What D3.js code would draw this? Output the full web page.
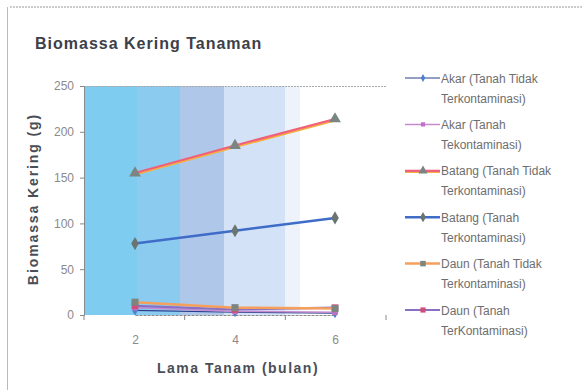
<!DOCTYPE html>
<html>
<head>
<meta charset="utf-8">
<script src="https://cdn.jsdelivr.net/npm/d3@7"></script>
<style>
  html, body { margin: 0; padding: 0; background: #fff; }
  svg { display: block; font-family: Arial, "Liberation Sans", sans-serif; }
</style>
</head>
<body>
<svg id="chart" width="582" height="392"></svg>
<script>
// Lama tanam (bulan)
const months = [2, 4, 6];
const yTicks = [0, 50, 100, 150, 200, 250];

// Biomassa kering (g) per bagian tanaman
const akarTidak = [5, 3, 2];
const akarKontam = [8, 4, 3];
const batangTidak = [155, 185, 214];
const batangKontam = [78, 92, 106];
const daunTidak = [14, 8, 7];
const daunKontam = [10, 6, 8];

const seriesNames = [
  ["Akar (Tanah Tidak", "Terkontaminasi)"],
  ["Akar (Tanah", "Tekontaminasi)"],
  ["Batang (Tanah Tidak", "Terkontaminasi)"],
  ["Batang (Tanah", "Terkontaminasi)"],
  ["Daun (Tanah Tidak", "Terkontaminasi)"],
  ["Daun (Tanah", "TerKontaminasi)"]
];

const series = [
  { name: seriesNames[0], values: akarTidak, line: "#2b3f8c", under: null, width: 1.2, marker: "diamond", fill: "#4f7fd0", size: 30 },
  { name: seriesNames[1], values: akarKontam, line: "#c58ad0", under: null, width: 1.5, marker: "square", fill: "#c070c8", size: 30 },
  { name: seriesNames[2], values: batangTidak, line: "#f0607a", under: "#f6b040", width: 2.2, marker: "triangle", fill: "#7a8480", size: 60 },
  { name: seriesNames[3], values: batangKontam, line: "#3f6cc8", under: null, width: 2.5, marker: "diamond", fill: "#6a7470", size: 50 },
  { name: seriesNames[4], values: daunTidak, line: "#f4a05c", under: null, width: 2.5, marker: "square", fill: "#7d8580", size: 50 },
  { name: seriesNames[5], values: daunKontam, line: "#8a6fc4", under: null, width: 2.2, marker: "square", fill: "#d24e78", size: 45 }
];

const svg = d3.select("#chart");

// Outer frame
svg.append("line").attr("x1", 10).attr("x2", 582).attr("y1", 7).attr("y2", 7)
  .attr("stroke", "#999").attr("stroke-dasharray", "2,1");
svg.append("line").attr("x1", 7.5).attr("x2", 7.5).attr("y1", 7).attr("y2", 390)
  .attr("stroke", "#bbb");

const plot = { left: 84, right: 386, top: 86, bottom: 315 };

const x = d3.scalePoint().domain(months).range([135, 335]);
const xBand = d3.scaleBand().domain(months).range([plot.left, plot.right]);
const y = d3.scaleLinear().domain([0, 250]).range([plot.bottom, plot.top]);

// Plot background: blue gradient stripes
const stripes = [
  [84, 137, "#7ecdf0"],
  [137, 180, "#8ccbf0"],
  [180, 224, "#afc8ea"],
  [224, 285, "#d3e2f6"],
  [285, 300, "#eef3fb"]
];
svg.append("g").selectAll("rect").data(stripes).join("rect")
  .attr("x", d => d[0]).attr("y", plot.top)
  .attr("width", d => d[1] - d[0]).attr("height", plot.bottom - plot.top)
  .attr("fill", d => d[2]);

// Top dashed edge of the plot area
svg.append("line").attr("x1", plot.left).attr("x2", plot.right)
  .attr("y1", plot.top + 0.5).attr("y2", plot.top + 0.5)
  .attr("stroke", "#aaa").attr("stroke-dasharray", "2,1");

// Y axis
const yAxis = svg.append("g").attr("transform", `translate(${plot.left},0)`)
  .call(d3.axisLeft(y).tickValues(yTicks).tickSize(4).tickPadding(6));
yAxis.select(".domain").attr("stroke", "#888");
yAxis.selectAll(".tick line").attr("stroke", "#888");
yAxis.selectAll("text").attr("fill", "#8a8a8a").attr("font-size", 12);

// X axis
const xAxis = svg.append("g").attr("transform", `translate(0,${plot.bottom})`)
  .call(d3.axisBottom(x).tickSize(0).tickPadding(20));
xAxis.select(".domain").attr("stroke", "#888").attr("stroke-dasharray", "3,1");
xAxis.selectAll("text").attr("fill", "#8a8a8a").attr("font-size", 12);
// Category separators
svg.append("g").selectAll("line").data(months).join("line")
  .attr("x1", d => xBand(d)).attr("x2", d => xBand(d))
  .attr("y1", plot.bottom).attr("y2", plot.bottom + 5)
  .attr("stroke", "#888");
svg.append("line").attr("x1", plot.right).attr("x2", plot.right)
  .attr("y1", plot.bottom).attr("y2", plot.bottom + 5).attr("stroke", "#888");

// Titles
svg.append("text").attr("x", 35).attr("y", 49)
  .attr("font-size", 16).attr("font-weight", "bold").attr("fill", "#3c4048")
  .attr("letter-spacing", 1)
  .text("Biomassa Kering Tanaman");
svg.append("text").attr("transform", "translate(38,199) rotate(-90)")
  .attr("text-anchor", "middle").attr("font-size", 14).attr("font-weight", "bold").attr("fill", "#4a4e56")
  .attr("letter-spacing", 1.9)
  .text("Biomassa Kering (g)");
svg.append("text").attr("x", 238).attr("y", 373)
  .attr("text-anchor", "middle").attr("font-size", 14).attr("font-weight", "bold").attr("fill", "#4a4e56")
  .attr("letter-spacing", 1.5)
  .text("Lama Tanam (bulan)");

const symbolType = { diamond: d3.symbolDiamond, square: d3.symbolSquare, triangle: d3.symbolTriangle };
const line = d3.line().x((d, i) => x(months[i])).y(d => y(d));

// Small series first, then the large ones on top
const drawOrder = [0, 1, 5, 4, 3, 2];
drawOrder.forEach(k => {
  const s = series[k];
  const g = svg.append("g");
  if (s.under) {
    g.append("path").attr("d", line(s.values)).attr("fill", "none")
      .attr("stroke", s.under).attr("stroke-width", s.width)
      .attr("transform", "translate(0,1.5)");
  }
  g.append("path").attr("d", line(s.values)).attr("fill", "none")
    .attr("stroke", s.line).attr("stroke-width", s.width);
  g.selectAll("path.m").data(s.values).join("path").attr("class", "m")
    .attr("transform", (d, i) => `translate(${x(months[i])},${y(d)})`)
    .attr("d", d3.symbol().type(symbolType[s.marker]).size(s.size))
    .attr("fill", s.fill);
});

// Legend
const legend = svg.append("g");
series.forEach((s, i) => {
  const ly = 78 + i * 46.4;
  const g = legend.append("g").attr("transform", `translate(0,${ly})`);
  if (s.under) {
    g.append("line").attr("x1", 405).attr("x2", 440).attr("y1", 1).attr("y2", 1)
      .attr("stroke", s.under).attr("stroke-width", s.width);
  }
  g.append("line").attr("x1", 405).attr("x2", 440).attr("y1", 0).attr("y2", 0)
    .attr("stroke", s.line).attr("stroke-width", s.width);
  g.append("path").attr("transform", "translate(423,0)")
    .attr("d", d3.symbol().type(symbolType[s.marker]).size(s.size * 0.6))
    .attr("fill", s.fill);
  const t = g.append("text").attr("x", 441).attr("y", 4.5)
    .attr("font-size", 12).attr("fill", "#6e6e6e");
  t.append("tspan").attr("x", 441).attr("dy", 0).text(s.name[0]);
  t.append("tspan").attr("x", 441).attr("dy", 20).text(s.name[1]);
});
</script>
</body>
</html>
